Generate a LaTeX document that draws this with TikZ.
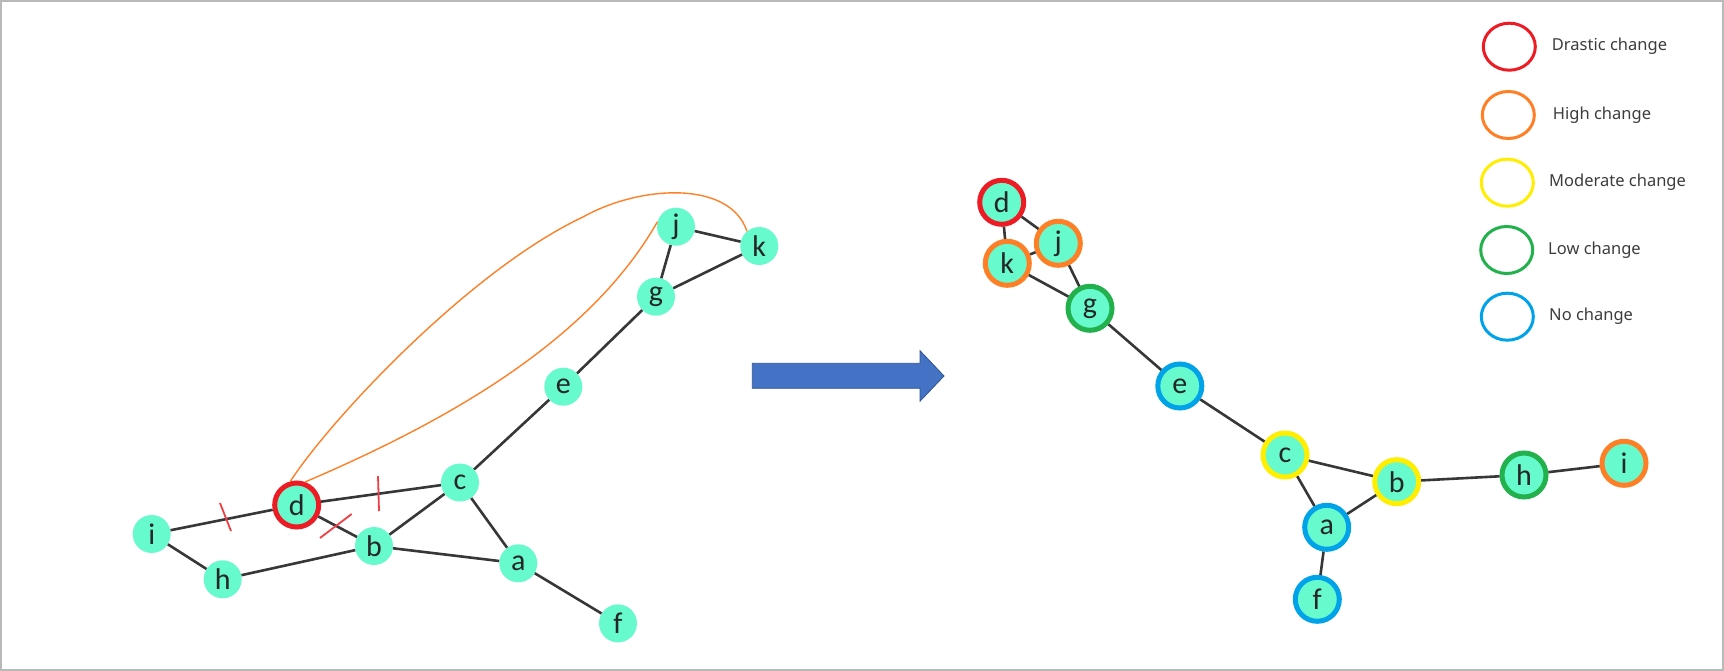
\documentclass[tikz,border=0pt]{standalone}
\usepackage{fontspec}
\setmainfont{Noto Sans}
\newfontfamily\labfont{Carlito}
\usetikzlibrary{shapes.geometric}
\definecolor{mint}{RGB}{102,250,204}
\definecolor{edgegray}{RGB}{55,55,55}
\definecolor{cred}{RGB}{237,28,36}
\definecolor{corange}{RGB}{255,127,39}
\definecolor{cyellow}{RGB}{255,238,0}
\definecolor{cgreen}{RGB}{34,177,76}
\definecolor{cblue}{RGB}{0,162,232}
\definecolor{arrowblue}{RGB}{68,114,196}
\definecolor{arrowedge}{RGB}{47,82,143}
\definecolor{legtext}{RGB}{60,60,60}
\definecolor{curveor}{RGB}{255,127,39}
\tikzset{
  gnode/.style={circle,fill=mint,minimum size=38pt,inner sep=0pt,
    font=\labfont\fontsize{30}{30}\selectfont,text=black!85},
  rnode/.style={gnode,minimum size=44pt,line width=5pt,draw=#1},
  gedge/.style={draw=edgegray,line width=2.6pt},
  ocurve/.style={draw=curveor,line width=1.4pt},
  tickmark/.style={draw=cred!85,line width=1.8pt},
  legring/.style={ellipse,draw=#1,line width=3pt,minimum width=52pt,minimum height=47pt,inner sep=0pt},
  legtxt/.style={anchor=west,text=legtext,font=\fontsize{16.5}{18}\selectfont,inner sep=0pt}
}
\begin{document}
\begin{tikzpicture}[x=1pt,y=-1pt]
\useasboundingbox (0,0) rectangle (1724,671);
\draw[gray!55,line width=2pt] (1,1) rectangle (1723,670);

% ---------- left graph ----------
\node[gnode] (La) at (518.3,563.3) {a};
\node[gnode] (Lb) at (374,546) {b};
\node[gnode] (Lc) at (460,482.5) {c};
\node[rnode=cred] (Ld) at (296.7,505) {d};
\node[gnode] (Le) at (563.3,386.7) {e};
\node[gnode] (Lf) at (618,623.4) {f};
\node[gnode] (Lg) at (656,296.7) {g};
\node[gnode] (Lh) at (222.7,579.3) {h};
\node[gnode] (Li) at (151.7,534) {i};
\node[gnode] (Lj) at (676,226.7) {j};
\node[gnode] (Lk) at (759.3,246) {k};

\draw[gedge] (Li) -- (Ld);
\draw[gedge] (Li) -- (Lh);
\draw[gedge] (Lh) -- (Lb);
\draw[gedge] (Ld) -- (Lb);
\draw[gedge] (Ld) -- (Lc);
\draw[gedge] (Lc) -- (Lb);
\draw[gedge] (Lc) -- (La);
\draw[gedge] (Lb) -- (La);
\draw[gedge] (La) -- (Lf);
\draw[gedge] (Lc) -- (Le);
\draw[gedge] (Le) -- (Lg);
\draw[gedge] (Lg) -- (Lj);
\draw[gedge] (Lg) -- (Lk);
\draw[gedge] (Lj) -- (Lk);

% orange curves
\coordinate (cmid) at (583,217);
\draw[ocurve] (Ld.105) .. controls (330,420) and (470,270) .. (cmid)
  .. controls (640,185) and (730,180) .. (Lk.130);
\draw[ocurve] (Ld.70) .. controls (450,420) and (590,340) .. (Lj.165);

% red tick marks
\draw[tickmark] (220,503) -- (231,531);
\draw[tickmark] (378,476) -- (379,511);
\draw[tickmark] (320,538) -- (351.7,514);

% ---------- arrow ----------
\filldraw[fill=arrowblue,draw=arrowedge,line width=0.8pt]
  (752.3,363.3) -- (920,363.3) -- (920,350.7) -- (944,376) -- (920,401.2)
  -- (920,388.3) -- (752.3,388.3) -- cycle;

% ---------- right graph ----------
\node[rnode=cred] (Rd) at (1001.7,202.3) {d};
\node[rnode=corange] (Rk) at (1007.3,263.3) {k};
\node[rnode=corange] (Rj) at (1058.3,243.3) {j};
\node[rnode=cgreen] (Rg) at (1090,308.3) {g};
\node[rnode=cblue] (Re) at (1179.8,386) {e};
\node[rnode=cyellow] (Rc) at (1285,455) {c};
\node[rnode=cyellow] (Rb) at (1396.7,481.7) {b};
\node[rnode=cblue] (Ra) at (1326.7,527.3) {a};
\node[rnode=cblue] (Rf) at (1317.3,599.3) {f};
\node[rnode=cgreen] (Rh) at (1524,475) {h};
\node[rnode=corange] (Ri) at (1624,463.3) {i};

\draw[gedge] (Rd) -- (Rk);
\draw[gedge] (Rd) -- (Rj);
\draw[gedge] (Rk) -- (Rj);
\draw[gedge] (Rk) -- (Rg);
\draw[gedge] (Rj) -- (Rg);
\draw[gedge] (Rg) -- (Re);
\draw[gedge] (Re) -- (Rc);
\draw[gedge] (Rc) -- (Rb);
\draw[gedge] (Rc) -- (Ra);
\draw[gedge] (Ra) -- (Rb);
\draw[gedge] (Ra) -- (Rf);
\draw[gedge] (Rb) -- (Rh);
\draw[gedge] (Rh) -- (Ri);

% ---------- legend ----------
\node[legring=cred] (L1) at (1509.3,46.7) {};
\node[legring=corange] (L2) at (1508.3,115) {};
\node[legring=cyellow] (L3) at (1507.3,182.7) {};
\node[legring=cgreen] (L4) at (1506.7,250) {};
\node[legring=cblue] (L5) at (1507.3,316.7) {};
\node[legtxt] (T1) at (1551.7,46.7) {Drastic change};
\node[legtxt] (T2) at (1552.7,115) {High change};
\node[legtxt] (T3) at (1549,182.7) {Moderate change};
\node[legtxt] (T4) at (1548,250) {Low change};
\node[legtxt] (T5) at (1549,316.7) {No change};
\end{tikzpicture}
\end{document}
